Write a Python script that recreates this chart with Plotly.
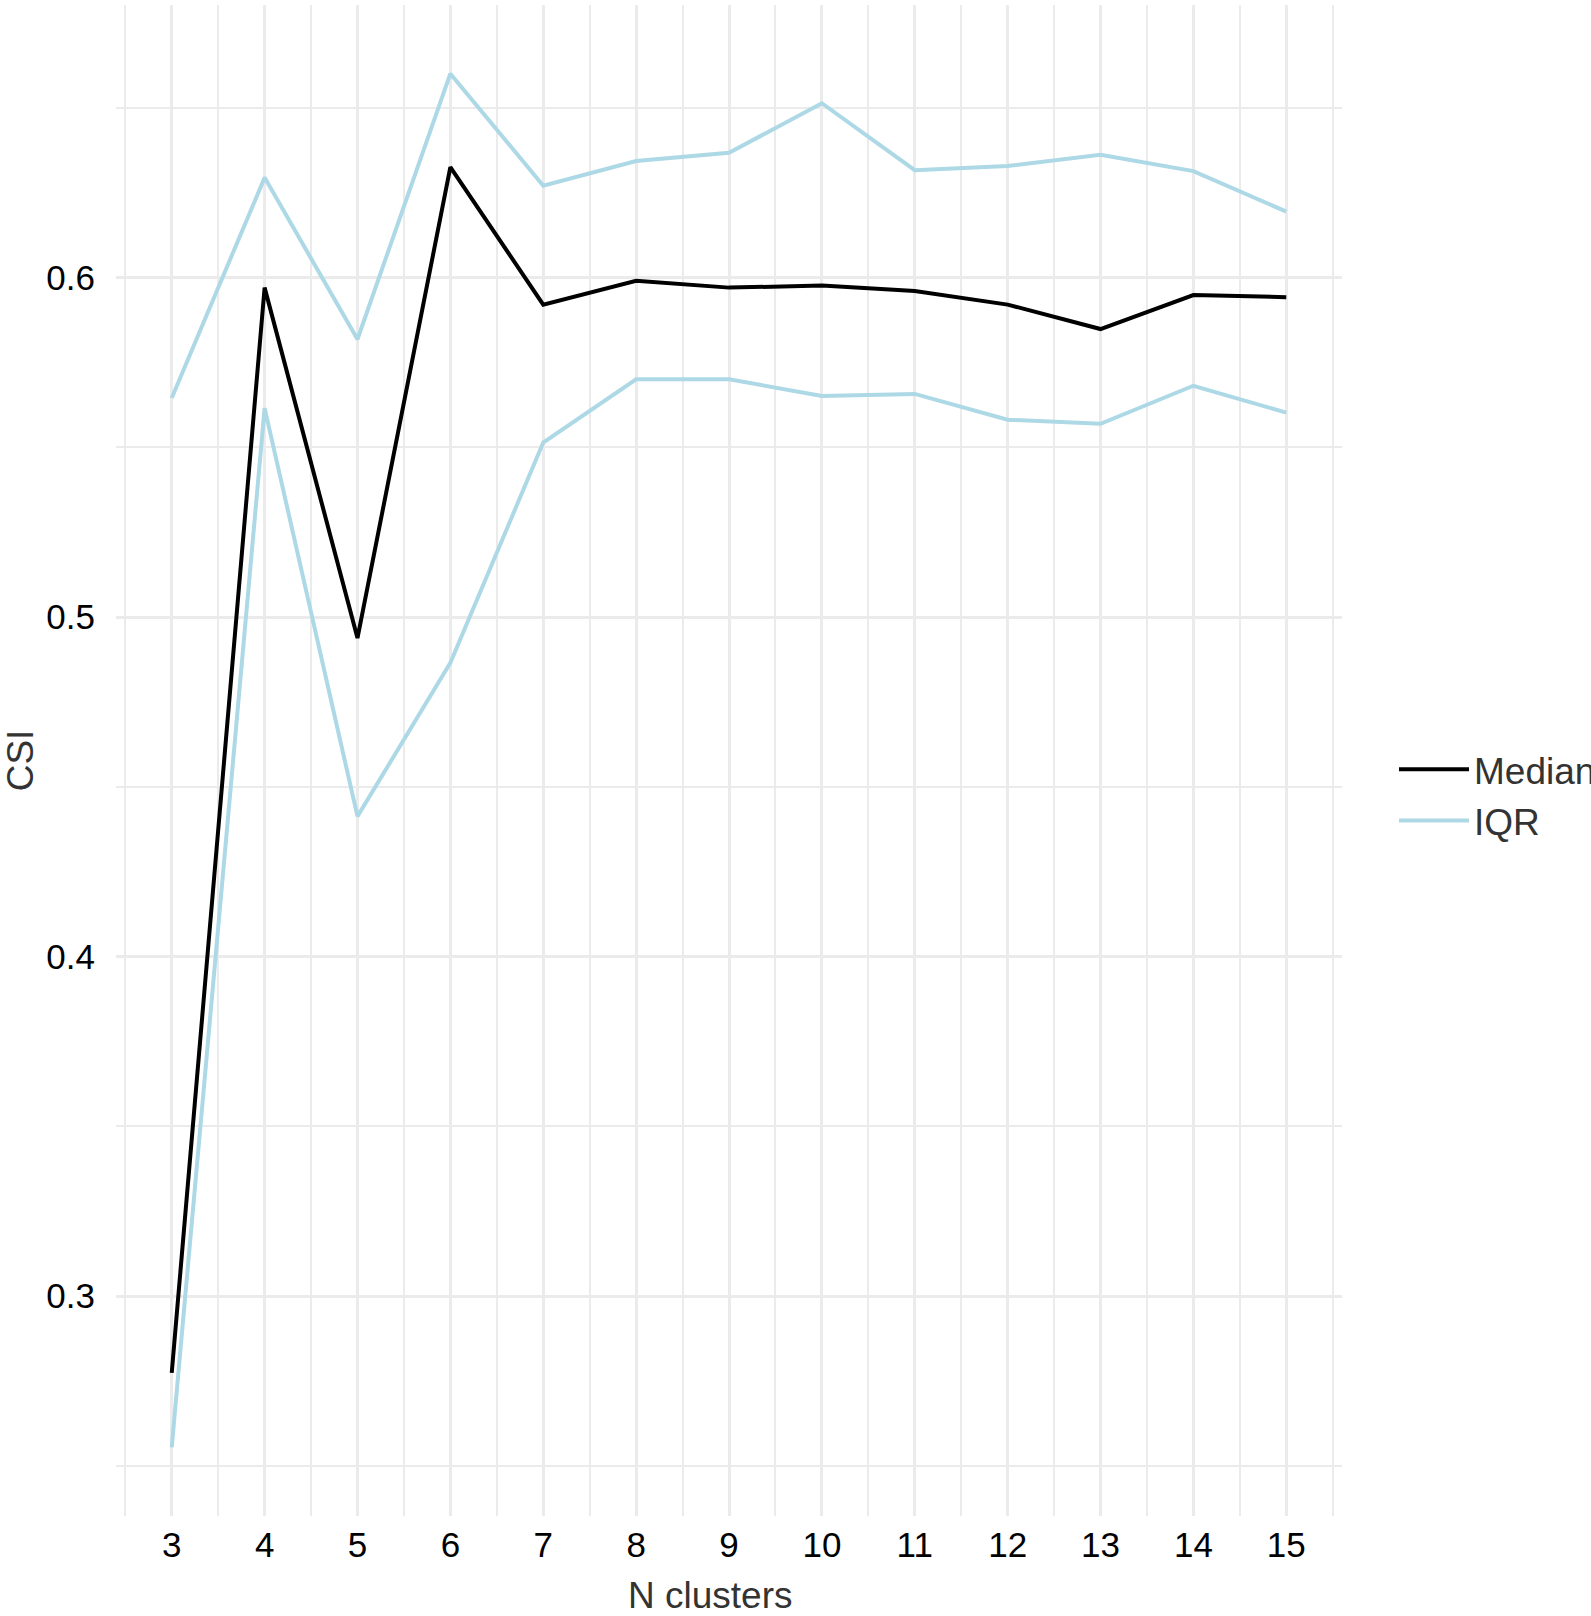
import plotly.graph_objects as go

n_clusters = [3, 4, 5, 6, 7, 8, 9, 10, 11, 12, 13, 14, 15]
median = [0.2774, 0.5970, 0.4938, 0.6325, 0.5920, 0.5990, 0.5970, 0.5976,
          0.5960, 0.5920, 0.5848, 0.5948, 0.5942]
iqr_upper = [0.5645, 0.6294, 0.5818, 0.6600, 0.6270, 0.6343, 0.6367, 0.6513,
             0.6316, 0.6328, 0.6361, 0.6313, 0.6194]
iqr_lower = [0.2555, 0.5615, 0.4413, 0.4865, 0.5514, 0.5700, 0.5700, 0.5651,
             0.5657, 0.5581, 0.5569, 0.5681, 0.5602]

FONT = "Liberation Sans, Arial, Helvetica, sans-serif"
GRID = "#EBEBEB"
IQR_COL = "#ADD8E6"

fig = go.Figure()
fig.add_trace(go.Scatter(x=n_clusters, y=iqr_upper, mode="lines", name="IQR",
                         line=dict(color=IQR_COL, width=4), legendgroup="iqr",
                         legendrank=2, showlegend=True))
fig.add_trace(go.Scatter(x=n_clusters, y=iqr_lower, mode="lines", name="IQR",
                         line=dict(color=IQR_COL, width=4), legendgroup="iqr",
                         legendrank=2, showlegend=False))
fig.add_trace(go.Scatter(x=n_clusters, y=median, mode="lines", name="Median",
                         line=dict(color="#000000", width=4), legendgroup="median",
                         legendrank=1))

ymin = min(iqr_lower + median)
ymax = max(iqr_upper + median)
pad = (ymax - ymin) * 0.05

fig.update_layout(
    width=1591, height=1616, autosize=False,
    margin=dict(l=116, r=249, t=5, b=100, autoexpand=False),
    paper_bgcolor="white", plot_bgcolor="white",
    font=dict(family=FONT, size=35, color="#000000"),
    showlegend=True,
    legend=dict(x=1.0424, xanchor="left", y=0.477, yanchor="middle",
                font=dict(size=37, color="#333333"), itemwidth=70,
                tracegroupgap=22, bgcolor="rgba(0,0,0,0)", borderwidth=0,
                traceorder="normal"),
    xaxis=dict(
        range=[2.4, 15.6], tick0=3, dtick=1, showgrid=True, gridcolor=GRID,
        gridwidth=3, zeroline=False, showline=False, ticks="",
        ticklabelstandoff=5, tickfont=dict(size=35, color="#000000"),
        minor=dict(tick0=2.5, dtick=0.5, showgrid=True, gridcolor=GRID, gridwidth=1.7),
        automargin=False,
    ),
    yaxis=dict(
        range=[ymin - pad, ymax + pad], tick0=0, dtick=0.1, tickformat=".1f",
        showgrid=True, gridcolor=GRID, gridwidth=3, zeroline=False,
        showline=False, ticks="", ticklabelstandoff=20,
        tickfont=dict(size=35, color="#000000"),
        minor=dict(tick0=0, dtick=0.05, showgrid=True, gridcolor=GRID, gridwidth=1.7),
        title=dict(text="CSI", font=dict(size=37, color="#333333"), standoff=14),
        automargin=False,
    ),
    annotations=[dict(
        text="N clusters", xref="paper", yref="paper", x=0.4845, y=0,
        xanchor="center", yanchor="middle", yshift=-79, showarrow=False,
        font=dict(size=37, color="#333333", family=FONT),
    )],
)

fig.write_html(
    "out.html",
    config={"displayModeBar": False},
    post_script="document.body.style.margin='0';document.body.style.overflow='hidden';",
)
